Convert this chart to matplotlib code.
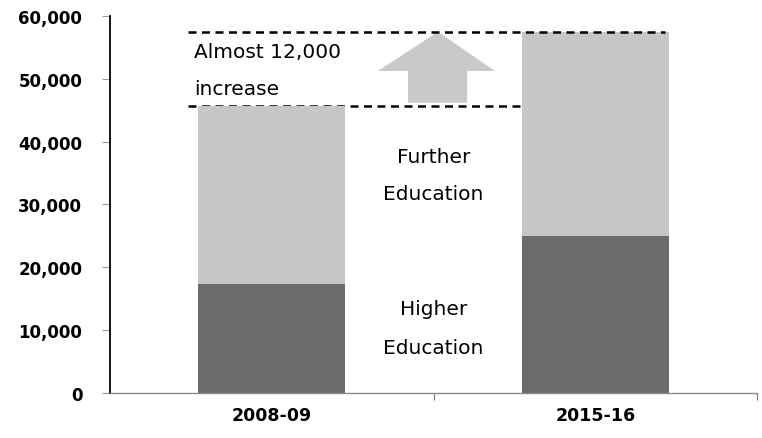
import matplotlib
matplotlib.use("Agg")
import matplotlib.pyplot as plt
from matplotlib.patches import Polygon
from matplotlib.ticker import FuncFormatter

# Student numbers by sector
years = ["2008-09", "2015-16"]
higher_ed = [17400, 25000]
further_ed = [28300, 32500]
y_ticks = [0, 10000, 20000, 30000, 40000, 50000, 60000]

plt.rcParams["font.family"] = ["DejaVu Sans"]

fig = plt.figure(figsize=(7.62, 4.39), dpi=100)
ax = fig.add_axes([0.1444, 0.1025, 0.849, 0.8588])

x = list(range(len(years)))
totals = [h + f for h, f in zip(higher_ed, further_ed)]
bar_w = 0.455

# Reference lines for the two totals
ax.hlines(totals[0], -0.26, x[1] - bar_w / 2, colors="black", linestyles=(0, (3.2, 2.2)),
          linewidth=1.8, zorder=1)
ax.bar(x, higher_ed, width=bar_w, color="#6b6b6b", zorder=2)
ax.bar(x, further_ed, width=bar_w, bottom=higher_ed, color="#c6c6c6", zorder=2)
ax.hlines(totals[1], -0.26, 1.217, colors="black", linestyles=(0, (3.2, 2.2)),
          linewidth=1.8, zorder=3)

# Upward arrow showing the rise between the totals
tip_x = 0.514
head_y = totals[0] + 0.47 * (totals[1] - totals[0])
arrow = Polygon([
    (0.421, totals[0] + 500), (0.604, totals[0] + 500), (0.604, head_y),
    (0.690, head_y), (tip_x, totals[1]), (0.328, head_y), (0.421, head_y)],
    closed=True, facecolor="#c9c9c9", edgecolor="none", zorder=1)
ax.add_patch(arrow)

note_size = 14.5
ax.text(-0.24, 54400, "Almost 12,000", fontsize=note_size, ha="left", va="center")
ax.text(-0.24, 48400, "increase", fontsize=note_size, ha="left", va="center")
ax.text(0.5, 37700, "Further", fontsize=note_size, ha="center", va="center")
ax.text(0.5, 31700, "Education", fontsize=note_size, ha="center", va="center")
ax.text(0.5, 13400, "Higher", fontsize=note_size, ha="center", va="center")
ax.text(0.5, 7300, "Education", fontsize=note_size, ha="center", va="center")

ax.set_xlim(-0.5, 1.5)
ax.set_ylim(0, 60000)
ax.set_yticks(y_ticks)
ax.yaxis.set_major_formatter(FuncFormatter(lambda v, p: f"{int(v):,}"))
for lbl in ax.get_yticklabels():
    lbl.set_fontweight("bold")
    lbl.set_fontsize(12)
ax.tick_params(axis="y", length=6, width=0.8, pad=14, colors="#999999", labelcolor="black")

ax.set_xticks(x)
ax.set_xticklabels(years, fontsize=12.5, fontweight="bold")
ax.tick_params(axis="x", length=0, pad=9)
ax.set_xticks([0.5, 1.5], minor=True)
ax.tick_params(axis="x", which="minor", length=5, width=0.8, color="#777777")

for side in ["top", "right"]:
    ax.spines[side].set_visible(False)
ax.spines["left"].set_color("black")
ax.spines["left"].set_linewidth(1.3)
ax.spines["bottom"].set_color("#8a8a8a")
ax.spines["bottom"].set_linewidth(1.0)

fig.savefig("out.png", dpi=100, facecolor="white")
